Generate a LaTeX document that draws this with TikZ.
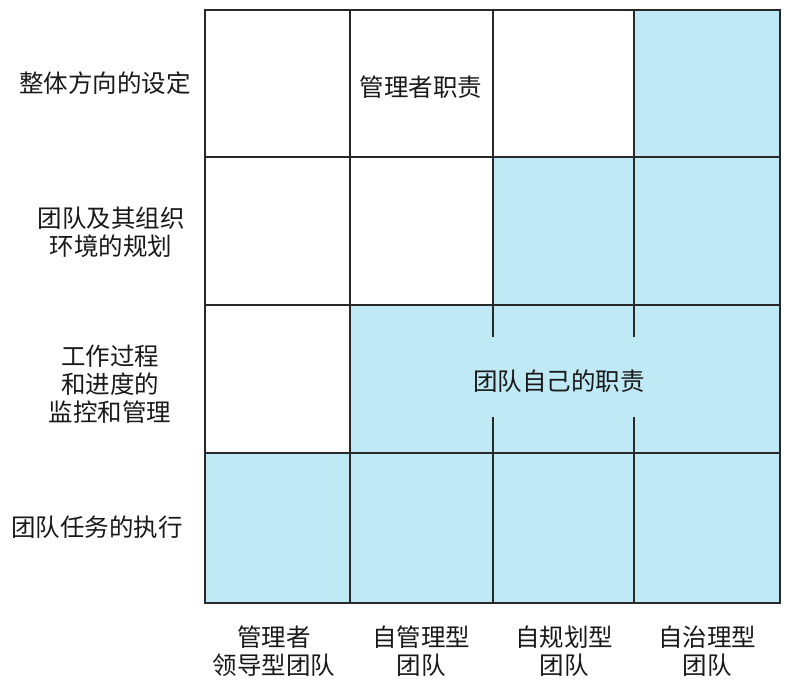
\documentclass[tikz,border=0pt]{standalone}
\usepackage{fontspec}
\newfontfamily\cjk{Noto Sans CJK SC}
\definecolor{teamblue}{RGB}{191,233,245}
\definecolor{gridgray}{RGB}{40,40,40}
\begin{document}
\begin{tikzpicture}[x=1pt,y=-1pt, line width=1.8pt,
  lbl/.style={font=\cjk\fontsize{24.5}{28}\selectfont, align=center, inner sep=0pt, text=black!90}]
\useasboundingbox (0,0) rectangle (794,684);
% shaded cells
\fill[teamblue] (634,10) rectangle (780,157);
\fill[teamblue] (493,157) rectangle (780,305);
\fill[teamblue] (350,305) rectangle (780,453);
\fill[teamblue] (205,453) rectangle (780,603);
% grid
\draw[gridgray] (205,10) rectangle (780,603);
\draw[gridgray] (205,157) -- (780,157) (205,305) -- (780,305) (205,453) -- (780,453);
\draw[gridgray] (350,10) -- (350,603);
\draw[gridgray] (493,10) -- (493,337) (493,417) -- (493,603);
\draw[gridgray] (634,10) -- (634,337) (634,417) -- (634,603);
% cell texts
\draw (421,87) node[lbl] (mgr) {管理者职责};
\draw (559,381) node[lbl] (team) {团队自己的职责};
% row labels
\draw (105,83) node[lbl] (row1) {整体方向的设定};
\draw (111,232) node[lbl] (row2) {团队及其组织\\环境的规划};
\draw (110,384) node[lbl] (row3) {工作过程\\和进度的\\监控和管理};
\draw (97,527) node[lbl] (row4) {团队任务的执行};
% column labels
\draw (274,651) node[lbl] (col1) {管理者\\领导型团队};
\draw (421,651) node[lbl] (col2) {自管理型\\团队};
\draw (564,651) node[lbl] (col3) {自规划型\\团队};
\draw (707,651) node[lbl] (col4) {自治理型\\团队};
\end{tikzpicture}
\end{document}
